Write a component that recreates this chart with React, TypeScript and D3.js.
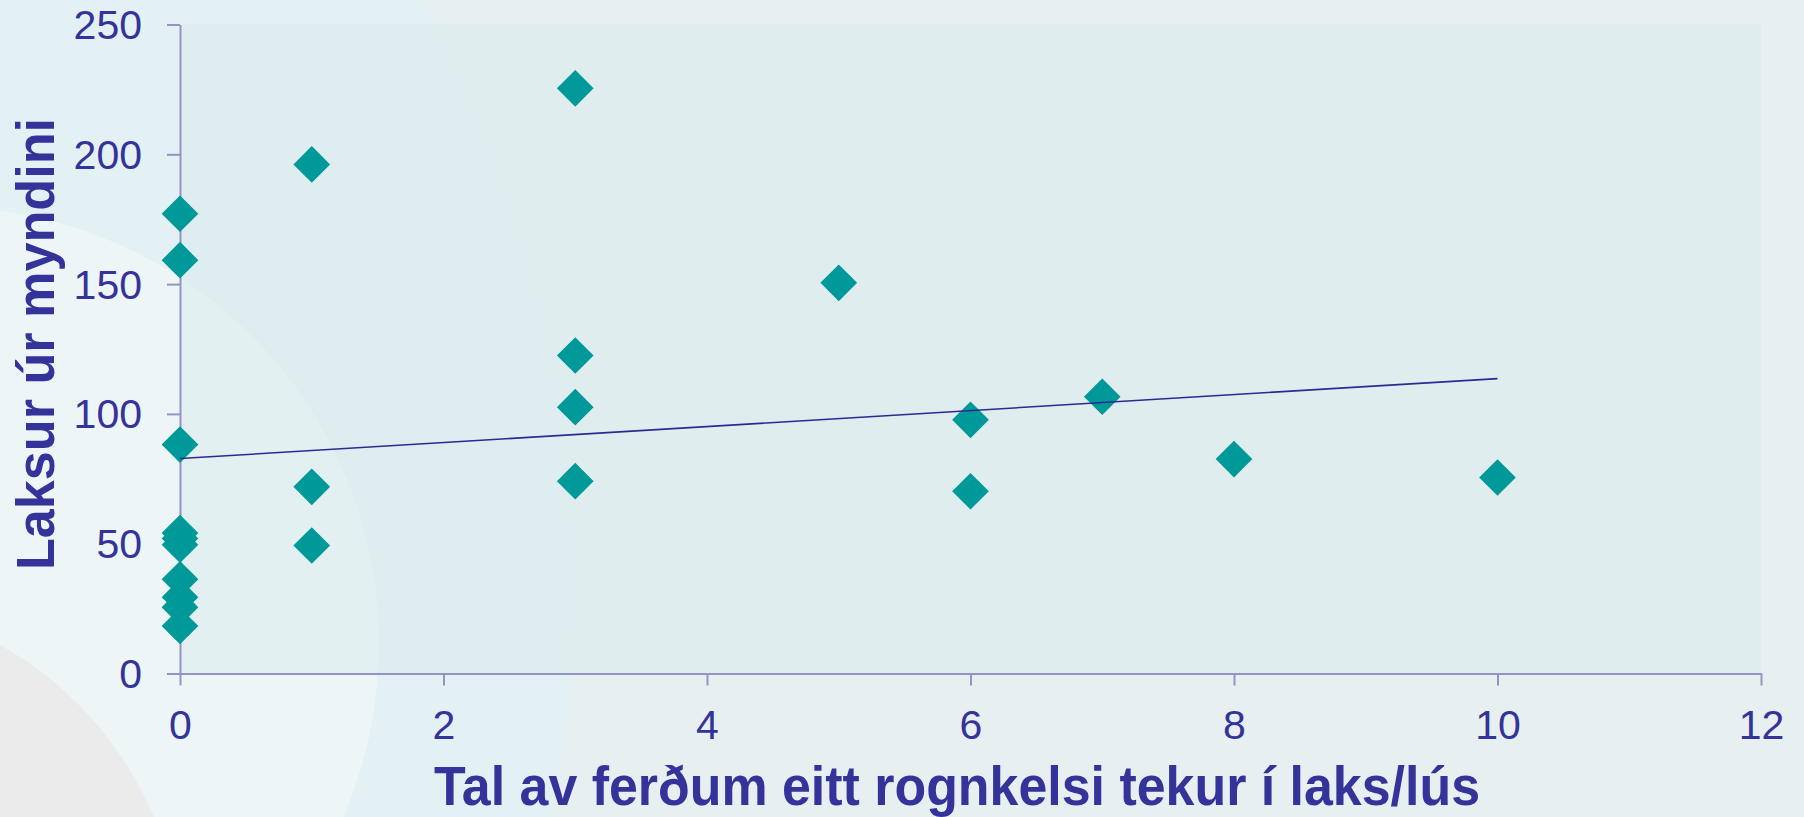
import { useEffect, useRef } from 'react';
import * as d3 from 'd3';

// values
const xValues = [0, 0, 0, 0, 0, 0, 0, 0, 0, 0, 1, 1, 1, 3, 3, 3, 3, 5, 6, 6, 7, 8, 10];
const yValues = [
  177.1, 159.2, 88.2, 54.1, 52.0, 49.6, 36.3, 29.4, 25.5, 18.3,
  196.1, 71.9, 49.3,
  225.4, 122.5, 102.6, 74.1,
  150.5,
  97.7, 70.2,
  106.6,
  82.6,
  75.5,
];
const trendX = [0, 10];
const trendY = [82.8, 113.6];
const xTicks = [0, 2, 4, 6, 8, 10, 12];
const yTicks = [0, 50, 100, 150, 200, 250];
const xTitle = 'Tal av ferðum eitt rognkelsi tekur í laks/lús';
const yTitle = 'Laksur úr myndini';

const W = 1804;
const H = 817;
const FONT = '"Liberation Sans", Arial, sans-serif';
const INK = '#333399';
const AXIS = '#9494c4';

export default function App() {
  const svgRef = useRef<SVGSVGElement>(null);

  useEffect(() => {
    if (!svgRef.current) return;
    const svg = d3.select(svgRef.current);
    svg.selectAll('*').remove();

    const left = 180;
    const right = 1761;
    const top = 24.5;
    const bottom = 673.5;

    const x = d3.scaleLinear().domain([0, 12]).range([left, right]);
    const y = d3.scaleLinear().domain([0, 250]).range([bottom, top]);

    // backdrop
    svg.append('rect').attr('width', W).attr('height', H).attr('fill', '#e7eff1');
    svg.append('circle').attr('cx', -598).attr('cy', 575).attr('r', 1174).attr('fill', '#e3f0f4');
    svg.append('circle').attr('cx', -58).attr('cy', 644).attr('r', 437).attr('fill', '#edf5f7');
    svg.append('circle').attr('cx', -173).attr('cy', 955).attr('r', 355).attr('fill', '#ebebeb');

    // plot area
    svg
      .append('rect')
      .attr('x', left)
      .attr('y', top)
      .attr('width', right - left)
      .attr('height', bottom - top)
      .attr('fill', '#d6eaea')
      .attr('opacity', 0.45);

    // Y axis
    const yAxis = svg
      .append('g')
      .attr('transform', `translate(${left},0)`)
      .call(d3.axisLeft(y).tickValues(yTicks).tickSize(13).tickPadding(25).tickSizeOuter(0));
    yAxis.select('.domain').attr('stroke', AXIS).attr('stroke-width', 2);
    yAxis.selectAll('.tick line').attr('stroke', AXIS).attr('stroke-width', 2);
    yAxis
      .selectAll('.tick text')
      .attr('fill', INK)
      .style('font-family', FONT)
      .style('font-size', '41px')
      .attr('dy', '0.34em');

    // X axis
    const xAxis = svg
      .append('g')
      .attr('transform', `translate(0,${bottom})`)
      .call(d3.axisBottom(x).tickValues(xTicks).tickSize(12).tickPadding(24).tickSizeOuter(0));
    xAxis.select('.domain').attr('stroke', AXIS).attr('stroke-width', 2);
    xAxis.selectAll('.tick line').attr('stroke', AXIS).attr('stroke-width', 2);
    xAxis
      .selectAll('.tick text')
      .attr('fill', INK)
      .style('font-family', FONT)
      .style('font-size', '41px')
      .attr('dy', '0.71em');

    // points
    const diamond = d3.symbol().type(d3.symbolSquare).size(673);
    svg
      .append('g')
      .selectAll('path')
      .data(xValues.map((v, i) => [v, yValues[i]]))
      .join('path')
      .attr('d', diamond)
      .attr('transform', (d) => `translate(${x(d[0])},${y(d[1])}) rotate(45)`)
      .attr('fill', '#009999');

    // trend line
    const line = d3
      .line<number>()
      .x((d) => x(d))
      .y((_, i) => y(trendY[i]));
    svg
      .append('path')
      .datum(trendX)
      .attr('d', line)
      .attr('fill', 'none')
      .attr('stroke', '#2a2a90')
      .attr('stroke-width', 1.6);

    // titles
    svg
      .append('text')
      .attr('x', 434)
      .attr('y', 805)
      .attr('textLength', 1046)
      .attr('lengthAdjust', 'spacingAndGlyphs')
      .attr('fill', INK)
      .style('font-family', FONT)
      .style('font-weight', 'bold')
      .style('font-size', '56px')
      .text(xTitle);

    svg
      .append('text')
      .attr('transform', 'translate(54,570) rotate(-90)')
      .attr('textLength', 452)
      .attr('lengthAdjust', 'spacingAndGlyphs')
      .attr('fill', INK)
      .style('font-family', FONT)
      .style('font-weight', 'bold')
      .style('font-size', '54px')
      .text(yTitle);
  }, []);

  return (
    <svg
      ref={svgRef}
      width={W}
      height={H}
      style={{ position: 'absolute', left: 0, top: 0, display: 'block' }}
    />
  );
}
